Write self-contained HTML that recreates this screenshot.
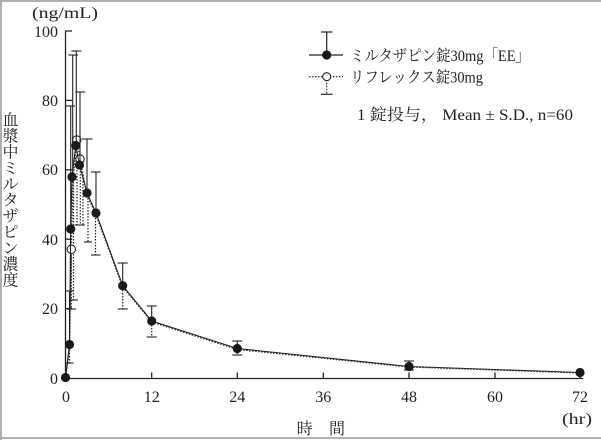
<!DOCTYPE html>
<html>
<head>
<meta charset="utf-8">
<style>
html,body{margin:0;padding:0;background:#fff;}
svg{display:block;}
text{font-family:"Liberation Serif","Noto Serif CJK SC",serif;fill:#222;}
</style>
</head>
<body>
<svg width="601" height="440" viewBox="0 0 601 440" xmlns="http://www.w3.org/2000/svg">
<rect x="0" y="0" width="601" height="440" fill="#fff"/>
<!-- frame -->
<rect x="0" y="0" width="601" height="2" fill="#b0b0b0"/>
<rect x="0" y="0" width="2" height="440" fill="#b0b0b0"/>
<rect x="0" y="437" width="601" height="2" fill="#b0b0b0"/>

<!-- axes -->
<g stroke="#222" stroke-width="1.3" fill="none">
<line x1="65.5" y1="30.5" x2="65.5" y2="378.5"/>
<line x1="65" y1="378.5" x2="583" y2="378.5"/>
<!-- y ticks -->
<line x1="65.5" y1="31" x2="72" y2="31"/>
<line x1="65.5" y1="100.4" x2="72" y2="100.4"/>
<line x1="65.5" y1="169.8" x2="72" y2="169.8"/>
<line x1="65.5" y1="239.2" x2="72" y2="239.2"/>
<line x1="65.5" y1="308.6" x2="72" y2="308.6"/>
<!-- x ticks -->
<line x1="151.7" y1="378.5" x2="151.7" y2="372.5"/>
<line x1="237.3" y1="378.5" x2="237.3" y2="372.5"/>
<line x1="323.3" y1="378.5" x2="323.3" y2="372.5"/>
<line x1="409" y1="378.5" x2="409" y2="372.5"/>
<line x1="495" y1="378.5" x2="495" y2="372.5"/>
<line x1="580" y1="378.5" x2="580" y2="372.5"/>
</g>

<!-- y tick labels -->
<g font-size="16" text-anchor="end">
<text x="58" y="37">100</text>
<text x="58" y="106">80</text>
<text x="58" y="175">60</text>
<text x="58" y="245">40</text>
<text x="58" y="314">20</text>
<text x="58" y="384">0</text>
</g>
<!-- x tick labels -->
<g font-size="16" text-anchor="middle">
<text x="66" y="402">0</text>
<text x="151.7" y="402">12</text>
<text x="237.3" y="402">24</text>
<text x="323.3" y="402">36</text>
<text x="409" y="402">48</text>
<text x="495" y="402">60</text>
<text x="580" y="402">72</text>
</g>

<!-- unit labels -->
<text x="32" y="18" font-size="16" textLength="66" lengthAdjust="spacingAndGlyphs">(ng/mL)</text>
<text x="562" y="424" font-size="16" textLength="30" lengthAdjust="spacingAndGlyphs">(hr)</text>
<text x="304.7" y="434" font-size="16" text-anchor="middle">時</text>
<text x="337" y="434" font-size="16" text-anchor="middle">間</text>

<!-- y axis title (vertical) -->
<g font-size="16" text-anchor="middle">
<text x="10.5" y="125.5">血</text>
<text x="10.5" y="141.5">漿</text>
<text x="10.5" y="157.5">中</text>
<text x="10.5" y="173.5">ミ</text>
<text x="10.5" y="189.5">ル</text>
<text x="10.5" y="205.5">タ</text>
<text x="10.5" y="221.5">ザ</text>
<text x="10.5" y="237.5">ピ</text>
<text x="10.5" y="253.5">ン</text>
<text x="10.5" y="269.5">濃</text>
<text x="10.5" y="285.5">度</text>
</g>

<!-- Reflex series: dotted line, down error bars -->
<g stroke="#222" stroke-width="1.2" fill="none" stroke-dasharray="1.5 1.5">
<path d="M65.5,377.5 L69.5,350 L71.3,249.3 L73,182 L76.7,140 L80,159 L87,195 L96,215 L122.7,287 L151.7,322 L237.3,349.5 L409,367 L580,373"/>
<line x1="69.5" y1="350" x2="69.5" y2="363"/>
<line x1="71.3" y1="249" x2="71.3" y2="309"/>
<line x1="73.5" y1="182" x2="73.5" y2="300"/>
<line x1="77" y1="140" x2="77" y2="225"/>
<line x1="80.3" y1="159" x2="80.3" y2="225"/>
<line x1="83" y1="175" x2="83" y2="225"/>
<line x1="88" y1="195" x2="88" y2="242"/>
<line x1="95.5" y1="215" x2="95.5" y2="255"/>
<line x1="122.7" y1="287" x2="122.7" y2="309"/>
<line x1="151.7" y1="322" x2="151.7" y2="337"/>
<line x1="237.3" y1="349.5" x2="237.3" y2="355"/>
</g>
<g stroke="#222" stroke-width="1.1" fill="none">
<line x1="65.5" y1="363" x2="73.5" y2="363"/>
<line x1="67" y1="309" x2="76" y2="309"/>
<line x1="69" y1="300" x2="78" y2="300"/>
<line x1="74.7" y1="225" x2="84.7" y2="225"/>
<line x1="84" y1="242" x2="92" y2="242"/>
<line x1="91" y1="255" x2="100.5" y2="255"/>
<line x1="117.7" y1="309" x2="127.7" y2="309"/>
<line x1="146.7" y1="337" x2="156.7" y2="337"/>
<line x1="232.3" y1="355" x2="242.3" y2="355"/>
<line x1="404" y1="370" x2="414" y2="370"/>
</g>
<g stroke="#222" stroke-width="1.1" fill="#fff">
<circle cx="71.3" cy="249.3" r="4.2"/>
<circle cx="76.7" cy="140" r="4.2"/>
<circle cx="80" cy="159" r="4.2"/>
</g>

<!-- EE series: solid line, up error bars -->
<g stroke="#222" stroke-width="1.1" fill="none">
<path d="M65.5,377.5 L69.5,344.5 L70.7,229 L72,177 L75.8,145.5 L79.5,165 L87,193 L96,213 L122.7,285.7 L151.7,321 L237.3,348.5 L409,366.5 L580,372.5"/>
<line x1="69.5" y1="291" x2="69.5" y2="344.5"/>
<line x1="70.7" y1="106" x2="70.7" y2="229"/>
<line x1="72.7" y1="55" x2="72.7" y2="177"/>
<line x1="76.3" y1="51" x2="76.3" y2="145.5"/>
<line x1="80" y1="92" x2="80" y2="165"/>
<line x1="87" y1="139" x2="87" y2="193"/>
<line x1="96" y1="172" x2="96" y2="213"/>
<line x1="122.7" y1="263" x2="122.7" y2="285.7"/>
<line x1="151.7" y1="306" x2="151.7" y2="321"/>
<line x1="237.3" y1="341" x2="237.3" y2="348.5"/>
<line x1="409" y1="361" x2="409" y2="366.5"/>
<!-- caps -->
<line x1="65.5" y1="291" x2="74" y2="291"/>
<line x1="66" y1="106" x2="75" y2="106"/>
<line x1="68.2" y1="55" x2="78.2" y2="55"/>
<line x1="71.3" y1="51" x2="81.3" y2="51"/>
<line x1="75.3" y1="92" x2="85.3" y2="92"/>
<line x1="82" y1="139" x2="92.5" y2="139"/>
<line x1="91" y1="172" x2="100.7" y2="172"/>
<line x1="117.7" y1="263" x2="127.7" y2="263"/>
<line x1="146.7" y1="306" x2="156.7" y2="306"/>
<line x1="232.3" y1="341" x2="242.3" y2="341"/>
<line x1="404" y1="361" x2="414" y2="361"/>
</g>
<g fill="#1a1a1a">
<circle cx="65.5" cy="377.5" r="4.6"/>
<circle cx="69.5" cy="344.5" r="4.6"/>
<circle cx="70.7" cy="229" r="4.6"/>
<circle cx="72" cy="177" r="4.6"/>
<circle cx="75.8" cy="145.5" r="4.6"/>
<circle cx="79.5" cy="165" r="4.6"/>
<circle cx="87" cy="193" r="4.6"/>
<circle cx="96" cy="213" r="4.6"/>
<circle cx="122.7" cy="285.7" r="4.6"/>
<circle cx="151.7" cy="321" r="4.6"/>
<circle cx="237.3" cy="348.5" r="4.6"/>
<circle cx="409" cy="366.5" r="4.6"/>
<circle cx="580" cy="372.5" r="4.6"/>
</g>

<!-- legend -->
<g stroke="#222" stroke-width="1.2" fill="none">
<line x1="309" y1="55" x2="343" y2="55"/>
<line x1="326.7" y1="32" x2="326.7" y2="55"/>
<line x1="321" y1="32" x2="332.5" y2="32"/>
<line x1="309" y1="76.7" x2="343" y2="76.7" stroke-dasharray="1.5 1.5"/>
<line x1="326.7" y1="76.7" x2="326.7" y2="94" stroke-dasharray="1.5 1.5"/>
<line x1="321" y1="94.3" x2="332.5" y2="94.3"/>
</g>
<circle cx="326.7" cy="55" r="4.6" fill="#1a1a1a"/>
<circle cx="326.7" cy="76.7" r="4" fill="#fff" stroke="#222" stroke-width="1.1"/>
<text x="350" y="61" font-size="16" textLength="180" lengthAdjust="spacingAndGlyphs">ミルタザピン錠30mg「EE」</text>
<text x="350" y="82.5" font-size="16" textLength="133" lengthAdjust="spacingAndGlyphs">リフレックス錠30mg</text>
<text x="357" y="120" font-size="16" textLength="216" lengthAdjust="spacingAndGlyphs">1 錠投与， Mean ± S.D., n=60</text>
</svg>
</body>
</html>
